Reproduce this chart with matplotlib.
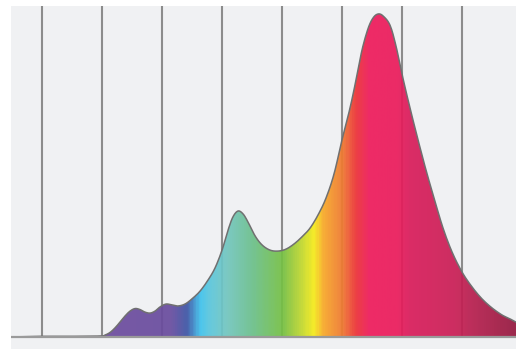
import numpy as np
import matplotlib
matplotlib.use("Agg")
import matplotlib.pyplot as plt
from matplotlib.colors import LinearSegmentedColormap
from matplotlib.patches import Polygon

# spectrum (wavelength nm, relative intensity)
wavelength = [324.6, 348.8, 373.7, 398.7, 402.8, 407.0, 411.1, 415.3, 419.5, 423.6,
              427.8, 431.9, 436.1, 440.3, 444.4, 448.6, 453.6, 458.6, 463.6, 469.4,
              475.2, 481.9, 488.5, 494.4, 500.2, 505.2, 509.3, 513.5, 517.7, 521.8,
              527.7, 533.5, 540.1, 546.8, 553.4, 560.1, 566.7, 573.4, 580.1, 586.7,
              593.4, 600.0, 606.7, 611.7, 616.7, 621.7, 625.9, 630.0, 634.2, 640.0,
              645.0, 650.8, 656.6, 663.3, 669.9, 676.6, 684.1, 691.6, 699.9, 708.2,
              716.5, 724.8, 733.2, 739.8, 744.8]
intensity = [0.0, 0.002, 0.002, 0.003, 0.006, 0.014, 0.028, 0.046, 0.065, 0.080,
             0.088, 0.085, 0.077, 0.074, 0.080, 0.093, 0.102, 0.099, 0.096, 0.102,
             0.118, 0.142, 0.176, 0.214, 0.269, 0.331, 0.372, 0.390, 0.381, 0.356,
             0.313, 0.285, 0.269, 0.266, 0.272, 0.288, 0.310, 0.337, 0.378, 0.430,
             0.505, 0.610, 0.709, 0.796, 0.889, 0.955, 0.988, 1.000, 0.994, 0.965,
             0.900, 0.800, 0.709, 0.610, 0.517, 0.430, 0.337, 0.263, 0.201, 0.155,
             0.118, 0.090, 0.068, 0.056, 0.046]

grid_nm = [350, 400, 450, 500, 550, 600, 650, 700]

# colour stops along the wavelength axis
stop_nm = [324.6, 398.7, 457, 471, 482, 490, 504, 526, 551, 565, 577, 585,
           601, 612, 623, 647, 657, 695, 709, 744.8]
stop_col = ['#6e4c9e', '#6e4c9e', '#6a4d9f', '#3d56a6', '#3fc3ee', '#5cc6dc',
            '#73c6c0', '#6cc08a', '#76c043', '#b9d531', '#f6eb1a', '#f8a829',
            '#f07831', '#ec3236', '#ee1c5b', '#eb1c5c', '#da1d5b', '#ca1f56',
            '#b8204f', '#961a40']

xmin, xmax = 324.6, 744.8
ymin, ymax = -0.0372, 1.0248


def smooth_path(x, y, n=8):
    # catmull-rom, only to draw the outline without corners
    x = np.asarray(x, float)
    y = np.asarray(y, float)
    px = np.concatenate([[x[0]], x, [x[-1]]])
    py = np.concatenate([[y[0]], y, [y[-1]]])
    t = np.linspace(0, 1, n, endpoint=False)
    xs, ys = [], []
    for i in range(1, len(px) - 2):
        for arr, out in ((px, xs), (py, ys)):
            p0, p1, p2, p3 = arr[i - 1], arr[i], arr[i + 1], arr[i + 2]
            out.extend(0.5 * (2 * p1 + (-p0 + p2) * t + (2 * p0 - 5 * p1 + 4 * p2 - p3) * t ** 2
                              + (-p0 + 3 * p1 - 3 * p2 + p3) * t ** 3))
    xs.append(x[-1])
    ys.append(y[-1])
    return np.array(xs), np.clip(np.array(ys), 0, None)


fig = plt.figure(figsize=(5.16, 3.49), dpi=100)
fig.patch.set_facecolor('white')
ax = fig.add_axes([11 / 516, 0, 505 / 516, 343 / 349])
ax.set_facecolor('#f0f1f3')
ax.set_xlim(xmin, xmax)
ax.set_ylim(ymin, ymax)
for s in ax.spines.values():
    s.set_visible(False)
ax.set_xticks([])
ax.set_yticks([])

ax.vlines(grid_nm, 0, ymax, color='#8c8c8c', lw=1.5, zorder=1)

pos = [(n - xmin) / (xmax - xmin) for n in stop_nm]
cmap = LinearSegmentedColormap.from_list('spec', list(zip(pos, stop_col)))
grad = np.linspace(0, 1, 600).reshape(1, -1)
img = ax.imshow(grad, cmap=cmap, extent=[xmin, xmax, 0, 1.05], aspect='auto',
                origin='lower', zorder=2, alpha=0.93)

sx, sy = smooth_path(wavelength, intensity)
verts = [(sx[0], 0)] + list(zip(sx, sy)) + [(sx[-1], 0)]
poly = Polygon(verts, closed=True, facecolor='none', edgecolor='none')
ax.add_patch(poly)
img.set_clip_path(poly)

ax.plot(sx, sy, color='#707070', lw=1.1, zorder=3)
ax.axhline(0, color='#9a9a9a', lw=1.6, zorder=4)

fig.savefig('out.png', dpi=100)
